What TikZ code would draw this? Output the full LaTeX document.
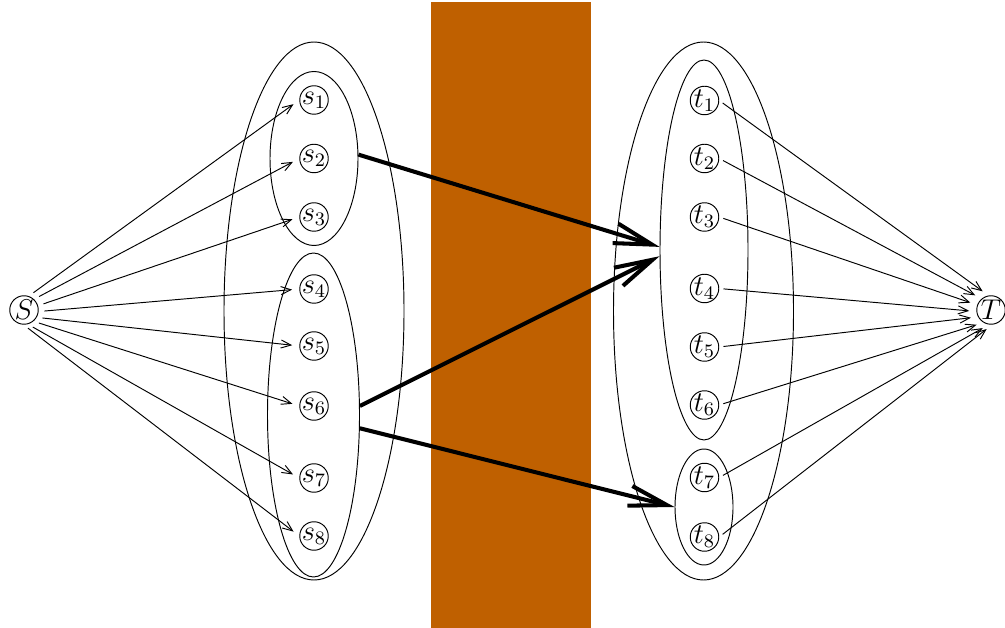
\documentclass[tikz,border=0pt]{standalone}
\usetikzlibrary{shapes.geometric,arrows.meta}
\definecolor{wall}{RGB}{191,96,0}
\def\pxu{0.42pt}
\begin{document}
\begin{tikzpicture}[x=\pxu,y=-\pxu,
  vtx/.style={circle,draw,inner sep=0pt,minimum size=28.5*\pxu,font=\fontsize{11.5}{14}\selectfont},
  grp/.style={ellipse,draw,inner sep=0pt},
  sarrow/.style={-{Straight Barb[length=4.2pt,width=3.4pt]},shorten <=2.4pt,shorten >=3pt},
  tarrow/.style={-{Straight Barb[length=4.2pt,width=3.4pt]},shorten <=1.8pt,shorten >=3pt},
  bigarrow/.style={line width=1.7pt,-{Straight Barb[length=16pt,width=8.5pt]}}]
\useasboundingbox (0,0) rectangle (1005,628);
% wall
\fill[wall] (431,2) rectangle (591,628);
% group ellipses
\node[grp,minimum width=180*\pxu,minimum height=538*\pxu] (Lout) at (314,311) {};
\node[grp,minimum width=88*\pxu,minimum height=174*\pxu] (Ltop) at (314,158.5) {};
\node[grp,minimum width=92*\pxu,minimum height=324*\pxu] (Lbot) at (313.5,415) {};
\node[grp,minimum width=180*\pxu,minimum height=538*\pxu] (Rout) at (703.5,311) {};
\node[grp,minimum width=88*\pxu,minimum height=380*\pxu] (Rtop) at (704,250) {};
\node[grp,minimum width=58*\pxu,minimum height=116*\pxu] (Rbot) at (704,507) {};
% vertices
\node[vtx] (S) at (24,310) {\makebox[0pt]{$S$}};
\node[vtx] (T) at (991,310) {\makebox[0pt]{$T$}};
\foreach \i/\y in {1/100,2/158.5,3/217,4/289,5/346,6/406,7/478,8/536}
  \node[vtx] (s\i) at (314,\y) {\makebox[0pt]{$s_{\i}$}};
\foreach \i/\y in {1/100.5,2/158.5,3/217,4/288.5,5/347,6/405,7/477.5,8/537}
  \node[vtx] (t\i) at (704.5,\y) {\makebox[0pt]{$t_{\i}$}};
% thin arrows
\foreach \i/\a in {1/71,2/47,3/17,4/-6,5/-30,6/-50,7/-75,8/-92}
  \draw[sarrow] (S.\a) -- (s\i.west);
\foreach \i/\a in {1/100,2/130,3/160,4/186,5/208,6/239,7/262,8/275}
  \draw[tarrow] (t\i.east) -- (T.\a);
% thick arrows
\draw[bigarrow] (Ltop.5) -- (Rtop.176);
\draw[bigarrow] (Lbot.11) -- (Rtop.188);
\draw[bigarrow] (Lbot.-16) -- (Rbot.west);
\end{tikzpicture}
\end{document}
